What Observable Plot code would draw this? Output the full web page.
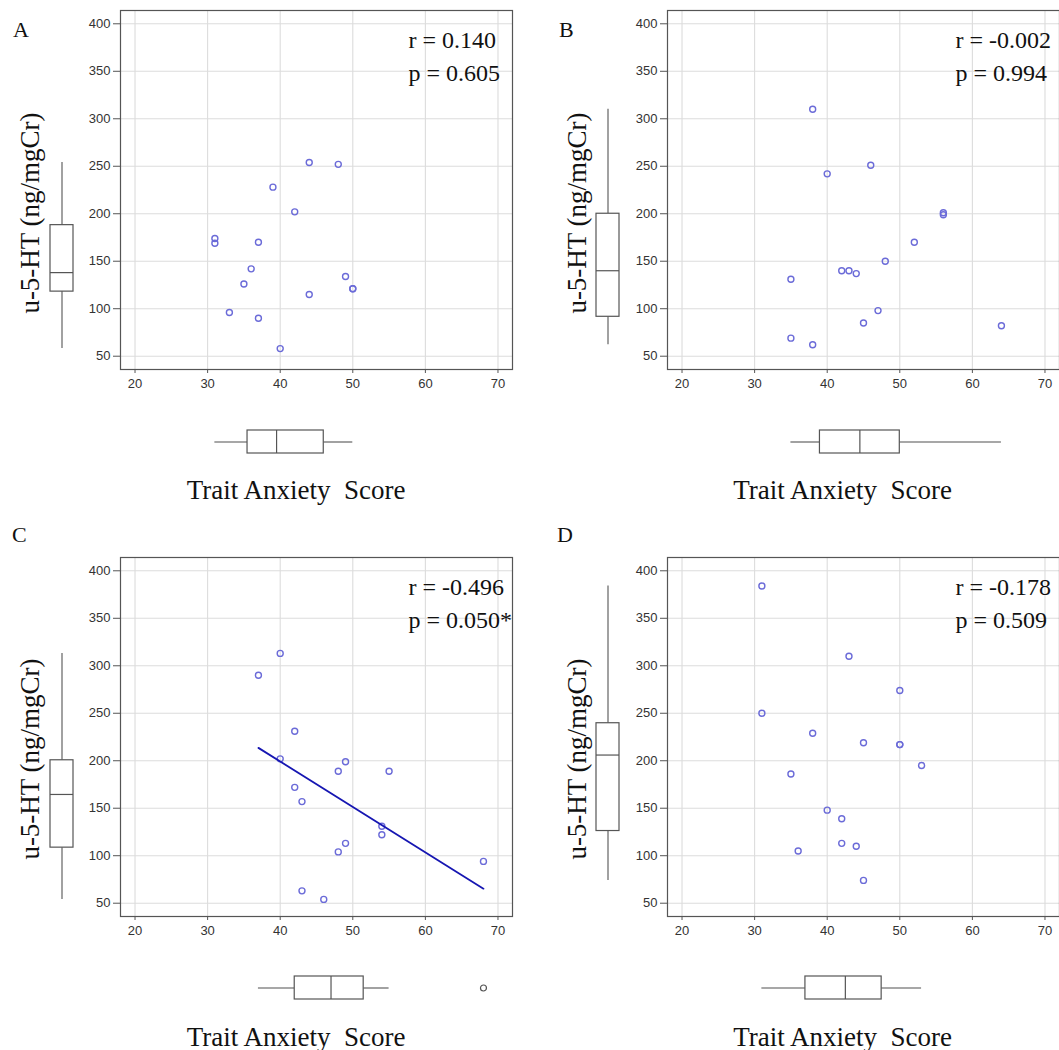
<!DOCTYPE html>
<html><head><meta charset="utf-8">
<script src="https://cdn.jsdelivr.net/npm/d3@7"></script>
<script src="https://cdn.jsdelivr.net/npm/@observablehq/plot@0.6"></script>
<style>
html,body{margin:0;padding:0;background:#fff;}
#root{position:relative;width:1059px;height:1050px;overflow:hidden;background:#fff;}
.abs{position:absolute;}
.serif{font-family:"Liberation Serif","Times New Roman",serif;color:#111;white-space:pre;line-height:1;}
</style></head><body><div id="root"></div>
<script>
// ---- data ----
const panelLetters = ["A", "B", "C", "D"];
const traitA = [31, 31, 37, 36, 35, 33, 37, 39, 42, 44, 48, 44, 40, 49, 50, 50];
const htA    = [174, 169, 170, 142, 126, 96, 90, 228, 202, 254, 252, 115, 58, 134, 121, 121];
const traitB = [38, 40, 46, 56, 56, 52, 48, 42, 43, 44, 35, 47, 45, 35, 38, 64];
const htB    = [310, 242, 251, 201, 199, 170, 150, 140, 140, 137, 131, 98, 85, 69, 62, 82];
const traitC = [37, 40, 42, 40, 49, 48, 55, 42, 43, 54, 54, 49, 48, 68, 43, 46];
const htC    = [290, 313, 231, 202, 199, 189, 189, 172, 157, 131, 122, 113, 104, 94, 63, 54];
const traitD = [31, 31, 43, 50, 38, 45, 50, 50, 53, 35, 40, 42, 42, 44, 36, 45];
const htD    = [384, 250, 310, 274, 229, 219, 217, 217, 195, 186, 148, 139, 113, 110, 105, 74];
const rTexts = ["r = 0.140", "r = -0.002", "r = -0.496", "r = -0.178"];
const pTexts = ["p = 0.605", "p = 0.994", "p = 0.050*", "p = 0.509"];
const showFit = [false, false, true, false];
const xTicks = [20, 30, 40, 50, 60, 70];
const yTicks = [50, 100, 150, 200, 250, 300, 350, 400];
const xTitle = "Trait Anxiety  Score";
const yTitle = "u-5-HT (ng/mgCr)";

// ---- layout ----
const xDomain = [18, 72];
const yDomain = [36, 414];
const panelOrigins = [[0, 0], [546.5, 0], [0, 546.7], [546.5, 546.7]];
const letterPos = [[13, 19], [559, 19], [12, 524], [557, 524]];
const root = document.getElementById("root");
const svgStyle = {background: "transparent", overflow: "visible", maxWidth: "none",
  fontFamily: "'Liberation Sans', Arial, sans-serif", fontSize: "13px", color: "#333"};

function fivenum(v) {
  const s = v.slice().sort(d3.ascending), n = s.length;
  const n4 = Math.floor((n + 3) / 2) / 2;
  return [1, n4, (n + 1) / 2, n + 1 - n4, n].map(k => 0.5 * (s[Math.floor(k) - 1] + s[Math.ceil(k) - 1]));
}
function boxStats(v) {
  const [, q1, med, q3] = fivenum(v);
  const iqr = q3 - q1;
  const lo = d3.min(v.filter(d => d >= q1 - 1.5 * iqr));
  const hi = d3.max(v.filter(d => d <= q3 + 1.5 * iqr));
  return {key: "box", q1, med, q3, lo, hi, out: v.filter(d => d < lo || d > hi)};
}
function place(node, left, top) {
  node.style.position = "absolute";
  node.style.left = left + "px";
  node.style.top = top + "px";
  root.appendChild(node);
}
function addDiv(text, cls, css) {
  const d = document.createElement("div");
  d.className = cls; d.textContent = text;
  Object.assign(d.style, css);
  root.appendChild(d);
}

const allX = [traitA, traitB, traitC, traitD];
const allY = [htA, htB, htC, htD];
const whisker = {stroke: "#8a8a8a", strokeWidth: 1.6};
const boxLine = {stroke: "#555", strokeWidth: 1.2};

panelLetters.forEach((letter, i) => {
  const [ox, oy] = panelOrigins[i];
  const rows = allX[i].map((x, j) => ({x, y: allY[i][j]}));
  const xs = boxStats(allX[i]);
  const ys = boxStats(allY[i]);

  const marks = [
    Plot.gridX(xTicks, {stroke: "#dcdcdc", strokeOpacity: 1, strokeWidth: 1.1}),
    Plot.gridY(yTicks, {stroke: "#dcdcdc", strokeOpacity: 1, strokeWidth: 1.1}),
    Plot.axisX(xTicks, {tickSize: 4, tickPadding: 5, label: null, stroke: "#555", fill: "#333"}),
    Plot.axisY(yTicks, {tickSize: 7, tickPadding: 3, label: null, stroke: "#555", fill: "#333"}),
    Plot.frame({stroke: "#555", strokeWidth: 1.2}),
    Plot.dot(rows, {x: "x", y: "y", r: 3, stroke: "#6b6bd8", strokeWidth: 1.4})
  ];
  if (showFit[i]) marks.push(Plot.linearRegressionY(rows, {x: "x", y: "y", stroke: "#1616b2", strokeWidth: 1.8, ci: 0}));
  marks.push(Plot.text([rTexts[i]], {text: d => d, frameAnchor: "top-left", dx: 288, dy: 30, textAnchor: "start", lineAnchor: "middle",
    fontFamily: "'Liberation Serif', 'Times New Roman', serif", fontSize: 24, fill: "#111"}));
  marks.push(Plot.text([pTexts[i]], {text: d => d, frameAnchor: "top-left", dx: 288, dy: 63, textAnchor: "start", lineAnchor: "middle",
    fontFamily: "'Liberation Serif', 'Times New Roman', serif", fontSize: 24, fill: "#111"}));

  const main = Plot.plot({
    width: 440, height: 400, marginLeft: 40, marginRight: 8, marginTop: 10, marginBottom: 31,
    style: svgStyle, x: {domain: xDomain}, y: {domain: yDomain}, marks
  });
  place(main, ox + 80, oy);

  const vbox = Plot.plot({
    width: 27, height: 400, marginLeft: 2, marginRight: 2, marginTop: 10, marginBottom: 31,
    style: svgStyle,
    x: {type: "band", domain: ["box"], padding: 0, axis: null},
    y: {domain: yDomain, axis: null},
    marks: [
      Plot.ruleX([ys], {x: "key", y1: "lo", y2: "q1", ...whisker}),
      Plot.ruleX([ys], {x: "key", y1: "q3", y2: "hi", ...whisker}),
      Plot.barY([ys], {x: "key", y1: "q1", y2: "q3", fill: "white", ...boxLine}),
      Plot.tickY([ys], {x: "key", y: "med", ...boxLine}),
      Plot.dot(ys.out, {x: () => "box", y: d => d, r: 3, stroke: "#555"})
    ]
  });
  place(vbox, ox + 47.5, oy);

  const hbox = Plot.plot({
    width: 440, height: 27, marginLeft: 40, marginRight: 8, marginTop: 2, marginBottom: 2,
    style: svgStyle,
    x: {domain: xDomain, axis: null},
    y: {type: "band", domain: ["box"], padding: 0, axis: null},
    marks: [
      Plot.ruleY([xs], {y: "key", x1: "lo", x2: "q1", ...whisker}),
      Plot.ruleY([xs], {y: "key", x1: "q3", x2: "hi", ...whisker}),
      Plot.barX([xs], {y: "key", x1: "q1", x2: "q3", fill: "white", ...boxLine}),
      Plot.tickX([xs], {y: "key", x: "med", ...boxLine}),
      Plot.dot(xs.out, {y: () => "box", x: d => d, r: 3, stroke: "#555", strokeWidth: 1.2})
    ]
  });
  place(hbox, ox + 80, oy + 427.5);

  addDiv(letter, "abs serif", {left: letterPos[i][0] + "px", top: letterPos[i][1] + "px", fontSize: "22px"});
  addDiv(yTitle, "abs serif", {left: (ox + 30) + "px", top: (oy + 212.5) + "px", fontSize: "27px",
    transform: "translate(-50%,-50%) rotate(-90deg)"});
  addDiv(xTitle, "abs serif", {left: (ox + 296) + "px", top: (oy + 490) + "px", fontSize: "27px",
    transform: "translate(-50%,-50%)"});
});
</script></body></html>
